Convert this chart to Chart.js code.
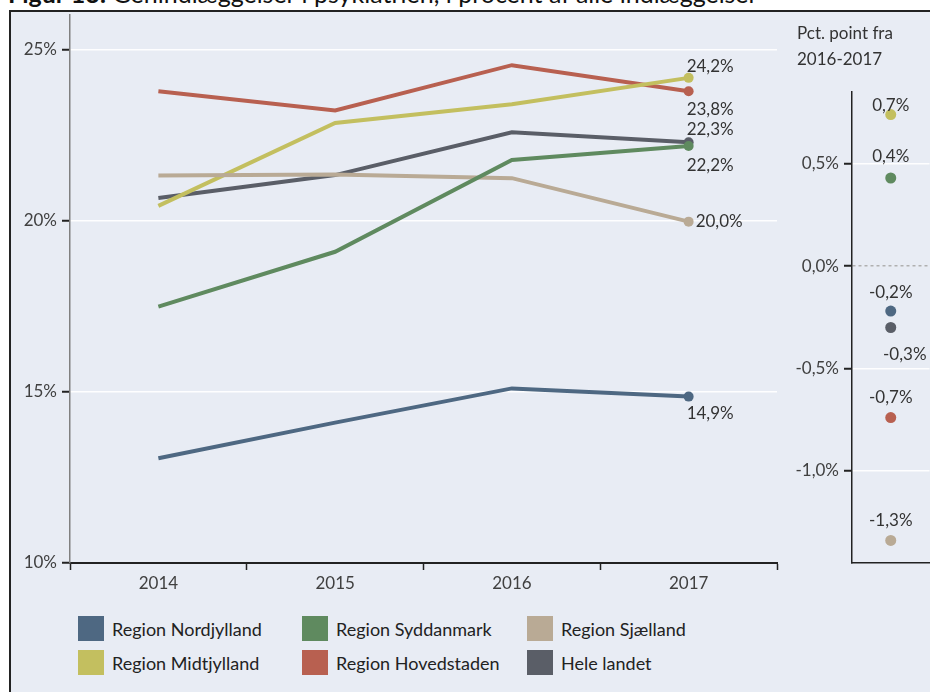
<!DOCTYPE html>
<html>
<head>
<meta charset="utf-8">
<script src="https://cdn.jsdelivr.net/npm/chart.js@4.4.1/dist/chart.umd.min.js"></script>
<style>
body { margin: 0; width: 930px; height: 692px; background: #fff; overflow: hidden; position: relative; font-family: Lato, sans-serif; color: #333; }
#title { position: absolute; left: 8px; top: -19px; font-size: 25px; line-height: 24px; white-space: nowrap; color: #111; }
#panel { position: absolute; left: 9px; top: 10px; width: 940px; height: 700px; background: #e8ecf4; border-left: 2px solid #222; border-top: 2px solid #222; }
#mainWrap { position: absolute; left: 0; top: 0; width: 790px; height: 600px; }
#sideWrap { position: absolute; left: 780px; top: 0; width: 155px; height: 600px; }
#sideTitle { position: absolute; left: 797px; top: 20px; font-size: 17px; line-height: 26px; color: #333; }
#legend { position: absolute; left: 78px; top: 616px; display: grid; grid-template-columns: 224px 225px 200px; row-gap: 9px; }
.item { display: flex; align-items: center; font-size: 18px; color: #222; height: 25px; }
.box { width: 26px; height: 25px; margin-right: 8px; }
</style>
</head>
<body>
<div id="title"><b>Figur 13:</b> Genindlæggelser i psykiatrien, i procent af alle indlæggelser</div>
<div id="panel"></div>
<div id="mainWrap"><canvas id="main"></canvas></div>
<div id="sideWrap"><canvas id="side"></canvas></div>
<div id="sideTitle">Pct. point fra<br>2016-2017</div>
<div id="legend"></div>
<script>
'use strict';

var years = ['2014', '2015', '2016', '2017'];
var regions = ['Region Nordjylland', 'Region Syddanmark', 'Region Sjælland',
               'Region Midtjylland', 'Region Hovedstaden', 'Hele landet'];
var nordjylland = [13.06, 14.10, 15.10, 14.86];
var syddanmark  = [17.49, 19.09, 21.77, 22.18];
var sjaelland   = [21.32, 21.35, 21.24, 19.97];
var midtjylland = [20.43, 22.85, 23.40, 24.17];
var hovedstaden = [23.78, 23.22, 24.54, 23.78];
var heleLandet  = [20.66, 21.33, 22.58, 22.29];
// change in pct. points 2016-2017, same order as regions
var changes = [-0.22, 0.43, -1.34, 0.74, -0.74, -0.30];
var mainTicks = [10, 15, 20, 25];
var sideTicks = [-1.0, -0.5, 0, 0.5];

var colors = ['#4e6882', '#5f8a5f', '#b9aa95', '#c3bf5f', '#b86050', '#5a5e67'];
var series = [nordjylland, syddanmark, sjaelland, midtjylland, hovedstaden, heleLandet];

// label placement next to the 2017 point / side points
var endLabelPos = [
    { dx: -2, dy: 17, align: 'left' },
    { dx: -2, dy: 20, align: 'left' },
    { dx: 7, dy: 0, align: 'left' },
    { dx: -2, dy: -11, align: 'left' },
    { dx: -2, dy: 18, align: 'left' },
    { dx: -2, dy: -13, align: 'left' }
];
var sideLabelPos = [
    { dx: 0, dy: -19 },
    { dx: 0, dy: -21 },
    { dx: 0, dy: -20 },
    { dx: 0, dy: -9 },
    { dx: 0, dy: -20 },
    { dx: 14, dy: 27 }
];

Chart.defaults.font.family = 'Lato, sans-serif';
Chart.defaults.color = '#404040';

function fmt(v) {
    var r = Math.round(v * 10) / 10;
    return r.toFixed(1).replace('.', ',');
}

function keepTicks(list) {
    return function(scale) {
        scale.ticks = list.map(function(v) { return { value: v }; });
    };
}

var legend = document.getElementById('legend');
regions.forEach(function(name, i) {
    var el = document.createElement('div');
    el.className = 'item';
    el.innerHTML = '<span class="box" style="background:' + colors[i] + '"></span>' + name;
    legend.appendChild(el);
});

var endLabels = {
    id: 'endLabels',
    afterDatasetsDraw: function(chart) {
        var ctx = chart.ctx;
        ctx.save();
        ctx.font = '17px Lato, sans-serif';
        ctx.fillStyle = '#333';
        ctx.textBaseline = 'middle';
        chart.data.datasets.forEach(function(ds, i) {
            var meta = chart.getDatasetMeta(i);
            var last = meta.data.length - 1;
            var pt = meta.data[last];
            var pos = endLabelPos[i];
            ctx.textAlign = pos.align;
            ctx.fillText(fmt(ds.data[last]) + '%', pt.x + pos.dx, pt.y + pos.dy);
        });
        ctx.restore();
    }
};

var sideLabels = {
    id: 'sideLabels',
    afterDatasetsDraw: function(chart) {
        var ctx = chart.ctx;
        ctx.save();
        ctx.font = '17px Lato, sans-serif';
        ctx.fillStyle = '#333';
        ctx.textBaseline = 'middle';
        ctx.textAlign = 'center';
        chart.data.datasets.forEach(function(ds, i) {
            var pt = chart.getDatasetMeta(i).data[0];
            var pos = sideLabelPos[i];
            ctx.fillText(fmt(ds.data[0]) + '%', pt.x + pos.dx, pt.y + pos.dy);
        });
        ctx.restore();
    }
};

new Chart(document.getElementById('main'), {
    type: 'line',
    data: {
        labels: years,
        datasets: series.map(function(d, i) {
            return {
                label: regions[i],
                data: d,
                borderColor: colors[i],
                backgroundColor: colors[i],
                borderWidth: 4,
                pointRadius: [0, 0, 0, 5],
                pointBorderWidth: 0,
                pointBackgroundColor: colors[i],
                tension: 0
            };
        })
    },
    options: {
        responsive: true,
        maintainAspectRatio: false,
        animation: false,
        layout: { padding: { top: 15, right: 13, left: 0, bottom: 0 } },
        plugins: { legend: { display: false }, tooltip: { enabled: false } },
        scales: {
            x: {
                offset: true,
                afterFit: function(s) { s.height = 37; },
                grid: { offset: true, drawOnChartArea: false, tickColor: '#222', tickLength: 7, tickWidth: 1.5 },
                border: { color: '#222', width: 2 },
                ticks: { color: '#404040', font: { size: 17 }, padding: 3 }
            },
            y: {
                min: 10,
                max: 26,
                afterBuildTicks: keepTicks(mainTicks),
                afterFit: function(s) { s.width = 70; },
                grid: { color: 'rgba(255,255,255,0.95)', lineWidth: 1.5, tickColor: '#222', tickLength: 8, tickWidth: 2 },
                border: { color: '#808080', width: 1.5 },
                ticks: {
                    color: '#404040',
                    font: { size: 17 },
                    padding: 5,
                    callback: function(v) { return v + '%'; }
                }
            }
        }
    },
    plugins: [endLabels]
});

new Chart(document.getElementById('side'), {
    type: 'line',
    data: {
        labels: [''],
        datasets: changes.map(function(v, i) {
            return {
                label: regions[i],
                data: [v],
                showLine: false,
                pointRadius: 5.5,
                pointBorderWidth: 0,
                pointBackgroundColor: colors[i],
                borderColor: colors[i]
            };
        })
    },
    options: {
        responsive: true,
        maintainAspectRatio: false,
        animation: false,
        layout: { padding: { top: 92, right: 0, left: 0, bottom: 0 } },
        plugins: { legend: { display: false }, tooltip: { enabled: false } },
        scales: {
            x: {
                offset: true,
                afterFit: function(s) { s.height = 37; },
                grid: { display: true, drawOnChartArea: false, drawTicks: false },
                border: { color: '#222', width: 1.5 },
                ticks: { display: false }
            },
            y: {
                min: -1.45,
                max: 0.85,
                afterBuildTicks: keepTicks(sideTicks),
                afterFit: function(s) { s.width = 72; },
                grid: {
                    color: function(c) {
                        return (c.tick && Math.abs(c.tick.value) < 1e-6) ? '#b0b0b0' : 'rgba(255,255,255,0.95)';
                    },
                    lineWidth: 1.5,
                    tickColor: '#222',
                    tickLength: 8,
                    tickWidth: 2
                },
                border: {
                    color: '#222',
                    width: 1.5,
                    dash: function(c) {
                        return (c.tick && Math.abs(c.tick.value) < 1e-6) ? [3, 3] : [];
                    }
                },
                ticks: {
                    color: '#404040',
                    font: { size: 17 },
                    padding: 5,
                    callback: function(v) { return fmt(v) + '%'; }
                }
            }
        }
    },
    plugins: [sideLabels]
});
</script>
</body>
</html>
